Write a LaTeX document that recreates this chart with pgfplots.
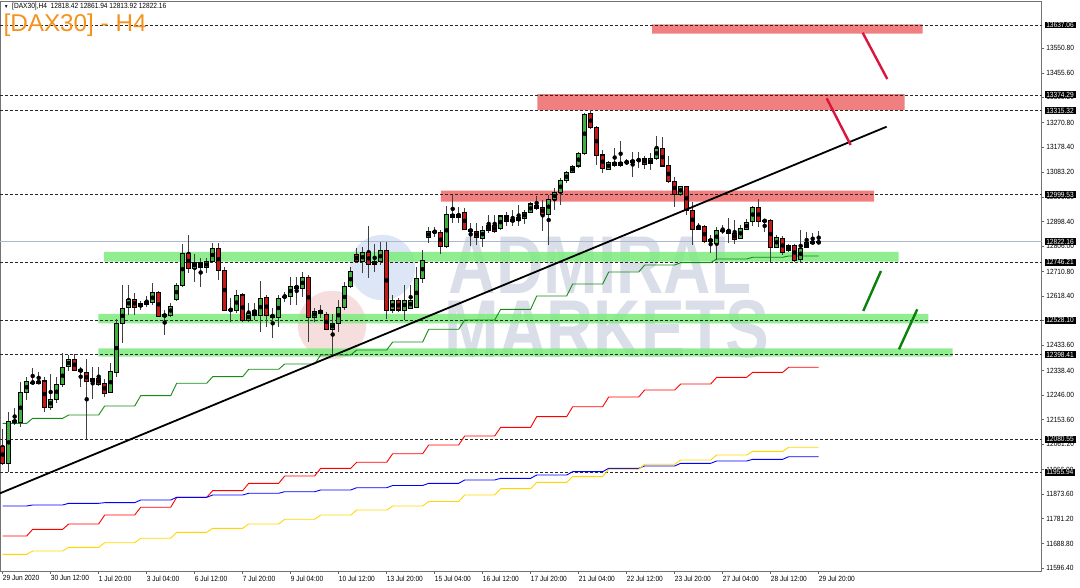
\documentclass[border=0pt]{standalone}
\usepackage{pgfplots}
\pgfplotsset{compat=1.18}
\usepackage{pgfplotstable}
\usepackage{fontspec}
\setmainfont{Liberation Sans}
\newfontfamily\mtfont{Liberation Sans}[FakeStretch=0.88]
\newfontfamily\wmfont{Liberation Sans}[FakeStretch=0.8]

\definecolor{mtgreen}{RGB}{64,176,64}
\definecolor{mtred}{RGB}{200,24,24}
\definecolor{zonegreen}{RGB}{124,235,124}
\definecolor{zonered}{RGB}{237,106,106}
\definecolor{arrowred}{RGB}{220,20,60}
\definecolor{arrowgreen}{RGB}{10,130,10}
\definecolor{wm}{RGB}{217,222,232}
\definecolor{wmpink}{RGB}{246,222,222}
\definecolor{wmblue}{RGB}{220,230,246}
\definecolor{bidline}{RGB}{172,184,204}
\definecolor{titleorange}{RGB}{245,146,30}
\definecolor{mayellow}{RGB}{255,215,0}
\definecolor{magreen}{RGB}{20,140,20}

% bullish candles: bar index, open, high, low, close
\pgfplotstableread{
i o h l c
1 11991.0 12183.8 11957.2 12146.3
3 12142.5 12296.6 12127.5 12255.2
4 12255.2 12315.4 12227.8 12296.6
5 12292.8 12348.1 12287.9 12294.3
6 12290.6 12334.2 12287.9 12299.2
8 12200.4 12325.5 12190.2 12230.4
9 12230.4 12315.4 12215.4 12287.9
10 12287.9 12405.6 12277.8 12350.7
11 12352.9 12396.9 12337.9 12380.8
15 12296.6 12350.7 12230.4 12309.3
18 12255.2 12368.0 12253.0 12334.2
19 12330.4 12531.1 12315.4 12516.0
20 12516.0 12660.0 12440.9 12572.4
21 12576.2 12660.0 12547.2 12606.2
23 12578.4 12601.0 12566.0 12588.6
24 12588.6 12618.6 12576.2 12597.2
25 12593.5 12666.4 12584.8 12631.0
27 12540.8 12566.0 12472.1 12549.9
28 12547.2 12591.2 12538.6 12581.0
29 12606.2 12668.6 12601.0 12660.0
30 12660.0 12814.0 12653.6 12779.1
32 12722.7 12776.5 12672.4 12746.4
34 12726.5 12760.3 12703.9 12747.5
35 12747.5 12818.9 12741.5 12797.9
38 12566.0 12610.0 12522.0 12567.9
39 12566.0 12641.2 12553.6 12622.4
41 12525.8 12591.2 12522.0 12553.6
43 12543.5 12676.1 12484.5 12610.0
46 12537.1 12622.4 12501.0 12610.0
47 12616.0 12634.8 12597.2 12617.5
48 12618.6 12688.9 12584.8 12656.2
50 12647.6 12710.0 12616.0 12688.9
52 12537.1 12572.4 12522.0 12562.3
55 12493.5 12551.0 12396.9 12516.0
56 12516.0 12603.6 12484.5 12576.2
57 12576.2 12672.4 12566.0 12653.6
58 12653.6 12728.7 12647.6 12710.0
60 12747.5 12803.9 12703.9 12781.3
62 12738.9 12814.0 12710.0 12747.5
63 12747.5 12822.7 12735.1 12788.9
65 12566.0 12622.4 12555.9 12601.0
67 12566.0 12660.0 12528.4 12603.6
68 12572.4 12660.0 12568.6 12603.6
69 12576.2 12728.7 12576.2 12685.1
70 12685.1 12791.5 12667.5 12753.9
71 12839.2 12879.1 12818.9 12860.3
74 12803.9 12956.9 12797.9 12926.8
76 12914.4 12952.0 12894.1 12926.8
80 12835.5 12881.7 12803.9 12866.7
81 12864.0 12923.0 12856.5 12885.4
83 12873.0 12923.0 12866.7 12919.3
85 12897.8 12941.8 12881.7 12906.9
86 12901.6 12960.6 12881.7 12912.9
87 12910.6 12941.8 12889.2 12933.2
88 12931.7 12973.0 12929.4 12964.4
91 12926.8 12998.2 12810.3 12982.0
92 12982.0 13023.4 12941.8 13006.8
93 13006.8 13060.9 12960.6 13051.9
94 13051.9 13089.5 13044.4 13082.0
95 13082.0 13110.9 13079.7 13107.2
96 13107.2 13160.9 13098.5 13154.9
97 13154.9 13307.5 13148.5 13302.6
101 13094.8 13127.1 13092.1 13121.1
103 13110.9 13202.2 13104.5 13121.1
104 13120.3 13133.5 13110.9 13121.1
105 13119.6 13160.9 13064.7 13129.7
108 13114.7 13154.9 13092.1 13133.5
109 13136.1 13219.9 13129.7 13173.7
113 13001.9 13032.0 12994.4 13029.4
116 12869.3 12891.8 12866.7 12881.7
118 12822.7 12847.9 12779.1 12832.8
119 12816.7 12876.8 12753.9 12866.7
120 12864.0 12885.4 12851.6 12865.5
123 12835.5 12885.4 12831.7 12873.0
124 12869.3 12906.9 12866.7 12894.1
125 12897.8 12956.9 12881.7 12952.0
129 12801.6 12847.9 12797.9 12839.2
131 12788.9 12814.0 12785.1 12810.3
133 12756.6 12866.7 12747.5 12797.9
134 12801.6 12860.3 12797.9 12818.9
135 12816.7 12854.3 12814.0 12822.7
136 12818.42 12861.94 12813.92 12822.16
}\up

% bearish candles
\pgfplotstableread{
i o h l c
0 12054.9 12118.8 11983.5 11991.0
2 12152.6 12197.7 12133.8 12142.5
7 12299.2 12315.4 12183.8 12200.4
12 12380.8 12400.7 12336.8 12340.5
13 12343.2 12352.9 12277.8 12334.2
14 12330.4 12380.8 12080.1 12296.6
16 12309.3 12350.7 12280.4 12286.8
17 12290.6 12305.6 12240.2 12253.0
22 12606.2 12631.0 12547.2 12576.2
26 12631.0 12638.5 12538.6 12543.5
31 12779.1 12847.9 12706.2 12722.7
33 12743.8 12760.3 12653.6 12726.5
36 12797.9 12816.7 12678.8 12716.3
37 12716.3 12728.7 12562.3 12566.0
40 12622.4 12631.0 12522.0 12528.4
42 12562.3 12593.5 12528.4 12544.6
44 12613.7 12622.4 12503.3 12543.5
45 12547.2 12572.4 12459.7 12538.6
49 12656.2 12691.2 12584.8 12647.6
51 12688.9 12697.5 12446.9 12538.6
53 12563.4 12584.8 12534.8 12553.6
54 12549.9 12559.6 12490.9 12493.5
59 12775.3 12797.9 12741.5 12747.5
61 12781.3 12881.7 12685.1 12738.9
64 12788.9 12822.7 12531.1 12566.0
66 12601.0 12610.0 12559.6 12566.0
72 12862.9 12879.1 12841.5 12856.5
73 12856.5 12866.7 12776.5 12803.9
75 12926.8 12998.2 12894.1 12914.4
77 12933.2 12948.2 12866.7 12869.3
78 12869.3 12894.1 12806.5 12860.3
79 12860.3 12894.1 12810.3 12839.2
82 12885.4 12923.0 12856.5 12860.3
84 12919.3 12935.4 12881.7 12897.8
89 12960.6 12994.4 12941.8 12948.2
90 12952.0 12979.4 12864.0 12926.8
98 13302.6 13317.6 13245.1 13252.6
99 13252.6 13257.5 13110.9 13148.5
100 13148.5 13167.3 13079.7 13098.5
102 13121.1 13173.7 13104.5 13110.9
106 13129.7 13160.9 13098.5 13128.6
107 13136.1 13144.8 13094.8 13114.7
110 13173.7 13217.3 13104.5 13107.2
111 13107.2 13144.8 13044.4 13048.2
112 13048.2 13067.0 12952.0 13001.9
114 13029.4 13032.0 12923.0 12941.8
115 12941.8 12973.0 12810.3 12869.3
117 12879.1 12885.4 12816.7 12822.7
121 12866.7 12910.6 12816.7 12854.3
122 12854.3 12904.2 12814.0 12831.7
126 12952.0 12982.0 12876.8 12897.8
127 12904.2 12904.2 12860.3 12897.8
128 12901.6 12906.9 12747.5 12801.6
130 12835.5 12844.1 12772.7 12781.3
132 12810.3 12814.0 12747.5 12753.9
}\down

\pgfplotsset{
  dashlvl/.style={black!85, line width=0.8pt, dash pattern=on 2.5pt off 2.5pt},
  stepline/.style={line width=0.9pt},
  wickplot/.style={only marks, mark=none, error bars/.cd, y dir=both, y explicit, error mark=none,
     error bar style={black!75, line width=0.9pt}},
  bodyout/.style={only marks, mark=none, error bars/.cd, y dir=both, y explicit, error mark=none,
     error bar style={black, line width=4.4pt}},
  bodyin/.style={only marks, mark=none, error bars/.cd, y dir=both, y explicit, error mark=none,
     error bar style={#1, line width=2.6pt}},
}

\begin{document}
\begin{tikzpicture}
\begin{axis}[name=main, scale only axis, width=1041.7pt, height=569.3pt,
  xmin=-0.45, xmax=173.17, ymin=11585.2, ymax=13724.6,
  clip mode=individual,
  axis line style={black!55, line width=0.9pt},
  tick align=outside, major tick length=2.5pt,
  xtick pos=left, ytick pos=right, yticklabel pos=right,
  tick style={black!60, line width=0.7pt},
  xtick={0,8,...,136},
  xticklabels={29 Jun 2020, 30 Jun 12:00, 1 Jul 20:00, 3 Jul 04:00, 6 Jul 12:00, 7 Jul 20:00, 9 Jul 04:00, 10 Jul 12:00, 13 Jul 20:00, 15 Jul 04:00, 16 Jul 12:00, 17 Jul 20:00, 21 Jul 04:00, 22 Jul 12:00, 23 Jul 20:00, 27 Jul 04:00, 28 Jul 12:00, 29 Jul 20:00},
  ytick={11596.4,11688.8,11781.2,11873.6,11966.0,12061.2,12153.6,12246.0,12338.4,12433.6,12526.0,12618.4,12710.8,12806.0,12898.4,12990.8,13083.2,13178.4,13270.8,13365.2,13455.6,13550.8},
  yticklabels={11596.40,11688.80,11781.20,11873.60,11966.00,12061.20,12153.60,12246.00,12338.40,12433.60,12526.00,12618.40,12710.80,12806.00,12898.40,12990.80,13083.20,13178.40,13270.80,13365.20,13455.60,13550.80},
  ticklabel style={font=\mtfont\fontsize{7.5}{9}\selectfont, text=black},
  xticklabel style={anchor=north west, inner sep=0pt, yshift=-2pt},
  yticklabel style={anchor=west, inner sep=0pt, xshift=2pt},
]
% watermark
\addplot[only marks, mark=*, mark size=34pt, mark options={draw=wmpink, fill=wmpink}] coordinates {(54.88,12509.6)};
\addplot[only marks, mark=*, mark size=32.5pt, mark options={draw=wmblue, fill=wmblue}] coordinates {(63.3,12725.7)};
\node[text=wm, inner sep=0pt, font=\wmfont\bfseries\fontsize{82}{90}\selectfont] at (axis cs:99.55,12733.2) {ADMIRAL};
\node[text=wm, inner sep=0pt, font=\wmfont\bfseries\fontsize{82}{90}\selectfont] at (axis cs:100.67,12494.6) {MARKETS};

% zones
\addplot[draw=none, fill=zonered, fill opacity=0.85] coordinates {(108.22,13604.4) (153.33,13604.4) (153.33,13639.7) (108.22,13639.7) (108.22,13604.4)};
\addplot[draw=none, fill=zonered, fill opacity=0.85] coordinates {(89.1,13317.6) (150.33,13317.6) (150.33,13377.7) (89.1,13377.7) (89.1,13317.6)};
\addplot[draw=none, fill=zonered, fill opacity=0.85] coordinates {(73.05,12973.0) (145.22,12973.0) (145.22,13014.3) (73.05,13014.3) (73.05,12973.0)};
\addplot[draw=none, fill=zonegreen, fill opacity=0.85] coordinates {(16.88,12747.5) (149.33,12747.5) (149.33,12784.0) (16.88,12784.0) (16.88,12747.5)};
\addplot[draw=none, fill=zonegreen, fill opacity=0.85] coordinates {(15.93,12516.0) (154.27,12516.0) (154.27,12551.0) (15.93,12551.0) (15.93,12516.0)};
\addplot[draw=none, fill=zonegreen, fill opacity=0.85] coordinates {(15.93,12390.5) (158.33,12390.5) (158.33,12422.1) (15.93,12422.1) (15.93,12390.5)};

% horizontal levels
\addplot[dashlvl] coordinates {(-0.45,13637.06) (173.17,13637.06)};
\addplot[dashlvl] coordinates {(-0.45,13374.29) (173.17,13374.29)};
\addplot[dashlvl] coordinates {(-0.45,13315.32) (173.17,13315.32)};
\addplot[dashlvl] coordinates {(-0.45,12999.53) (173.17,12999.53)};
\addplot[dashlvl] coordinates {(-0.45,12746.21) (173.17,12746.21)};
\addplot[dashlvl] coordinates {(-0.45,12528.10) (173.17,12528.10)};
\addplot[dashlvl] coordinates {(-0.45,12398.41) (173.17,12398.41)};
\addplot[dashlvl] coordinates {(-0.45,12080.55) (173.17,12080.55)};
\addplot[dashlvl] coordinates {(-0.45,11955.94) (173.17,11955.94)};
\addplot[bidline, line width=1pt] coordinates {(-0.45,12822.16) (173.17,12822.16)};

% step lines
\addplot[stepline, magreen] coordinates {(0,12140.2) (4,12140.2) (5,12159.0) (10,12159.0) (11,12171.4) (16,12171.4) (17,12205.3) (22,12205.3) (23,12244.0) (28,12244.0) (29,12290.6) (34,12290.6) (35,12315.4) (40,12315.4) (41,12343.2) (46,12343.2) (47,12363.1) (52,12363.1) (53,12396.9) (58,12396.9) (59,12415.7) (64,12415.7) (65,12445.8) (70,12445.8) (71,12493.5) (76,12493.5) (77,12528.4) (82,12528.4) (83,12568.6) (88,12568.6) (89,12618.6) (94,12618.6) (95,12663.7) (100,12663.7) (101,12708.8) (106,12708.8) (107,12735.1) (112,12735.1) (113,12743.8) (118,12743.8) (119,12757.7) (124,12757.7) (125,12764.1) (130,12764.1) (131,12769.0) (136,12769.0)};
\addplot[stepline, red] coordinates {(0,11716.7) (4,11716.7) (5,11741.9) (10,11741.9) (11,11761.8) (16,11761.8) (17,11795.6) (22,11795.6) (23,11824.6) (28,11824.6) (29,11862.1) (34,11862.1) (35,11887.0) (40,11887.0) (41,11914.7) (46,11914.7) (47,11942.2) (52,11942.2) (53,11971.1) (58,11971.1) (59,11993.7) (64,11993.7) (65,12026.0) (70,12026.0) (71,12058.7) (76,12058.7) (77,12092.5) (82,12092.5) (83,12125.2) (88,12125.2) (89,12165.1) (94,12165.1) (95,12202.6) (100,12202.6) (101,12239.1) (106,12239.1) (107,12265.4) (112,12265.4) (113,12287.9) (118,12287.9) (119,12313.1) (124,12313.1) (125,12331.9) (130,12331.9) (131,12350.7) (136,12350.7)};
\addplot[stepline, blue] coordinates {(0,11829.5) (4,11829.5) (5,11833.2) (10,11833.2) (11,11839.6) (16,11839.6) (17,11841.9) (22,11841.9) (23,11852.0) (28,11852.0) (29,11862.1) (34,11862.1) (35,11870.8) (40,11870.8) (41,11877.2) (46,11877.2) (47,11883.2) (52,11883.2) (53,11889.6) (58,11889.6) (59,11898.2) (64,11898.2) (65,11906.5) (70,11906.5) (71,11914.7) (76,11914.7) (77,11927.2) (82,11927.2) (83,11933.5) (88,11933.5) (89,11945.9) (94,11945.9) (95,11958.4) (100,11958.4) (101,11971.1) (106,11971.1) (107,11979.8) (112,11979.8) (113,11989.9) (118,11989.9) (119,11998.6) (124,11998.6) (125,12004.9) (130,12004.9) (131,12014.7) (136,12014.7)};
\addplot[stepline, mayellow] coordinates {(0,11647.9) (4,11647.9) (5,11660.3) (10,11660.3) (11,11674.2) (16,11674.2) (17,11691.5) (22,11691.5) (23,11708.1) (28,11708.1) (29,11730.6) (34,11730.6) (35,11745.6) (40,11745.6) (41,11761.8) (46,11761.8) (47,11779.5) (52,11779.5) (53,11795.6) (58,11795.6) (59,11814.4) (64,11814.4) (65,11829.5) (70,11829.5) (71,11846.4) (76,11846.4) (77,11870.8) (82,11870.8) (83,11894.5) (88,11894.5) (89,11918.5) (94,11918.5) (95,11939.6) (100,11939.6) (101,11967.4) (106,11967.4) (107,11986.2) (112,11986.2) (113,12002.3) (118,12002.3) (119,12021.1) (124,12021.1) (125,12035.0) (130,12035.0) (131,12050.1) (136,12050.1)};

% candles: wicks
\addplot[wickplot] table[x=i, y expr={(\thisrow{h}+\thisrow{l})/2}, y error expr={(\thisrow{h}-\thisrow{l})/2}] {\up};
\addplot[wickplot] table[x=i, y expr={(\thisrow{h}+\thisrow{l})/2}, y error expr={(\thisrow{h}-\thisrow{l})/2}] {\down};
% candles: bodies
\addplot[bodyout] table[x=i, y expr={(\thisrow{o}+\thisrow{c})/2}, y error expr={abs(\thisrow{c}-\thisrow{o})/2+1.9}] {\up};
\addplot[bodyout] table[x=i, y expr={(\thisrow{o}+\thisrow{c})/2}, y error expr={abs(\thisrow{c}-\thisrow{o})/2+1.9}] {\down};
\addplot[bodyin=mtgreen] table[x=i, y expr={(\thisrow{o}+\thisrow{c})/2}, y error expr={max(abs(\thisrow{c}-\thisrow{o})/2-1.9,0)}] {\up};
\addplot[bodyin=mtred] table[x=i, y expr={(\thisrow{o}+\thisrow{c})/2}, y error expr={max(abs(\thisrow{c}-\thisrow{o})/2-1.9,0)}] {\down};

% trendline and arrows
\addplot[black, line width=1.8pt] coordinates {(-0.45,11877.2) (147.33,13254.9)};
\addplot[arrowred, line width=2.4pt] coordinates {(143.33,13608.1) (147.43,13434.1)};
\addplot[arrowred, line width=2.4pt] coordinates {(137.33,13361.6) (141.33,13186.1)};
\addplot[arrowgreen, line width=2.4pt] coordinates {(143.43,12562.3) (146.38,12712.6)};
\addplot[arrowgreen, line width=2.4pt] coordinates {(149.38,12418.3) (152.43,12568.6)};

% anchors for the price boxes
\coordinate (B1) at ({rel axis cs:1,0} |- {axis cs:0,13637.06});
\coordinate (B2) at ({rel axis cs:1,0} |- {axis cs:0,13374.29});
\coordinate (B3) at ({rel axis cs:1,0} |- {axis cs:0,13315.32});
\coordinate (B4) at ({rel axis cs:1,0} |- {axis cs:0,12999.53});
\coordinate (B5) at ({rel axis cs:1,0} |- {axis cs:0,12822.16});
\coordinate (B6) at ({rel axis cs:1,0} |- {axis cs:0,12746.21});
\coordinate (B7) at ({rel axis cs:1,0} |- {axis cs:0,12528.10});
\coordinate (B8) at ({rel axis cs:1,0} |- {axis cs:0,12398.41});
\coordinate (B9) at ({rel axis cs:1,0} |- {axis cs:0,12080.55});
\coordinate (B10) at ({rel axis cs:1,0} |- {axis cs:0,11955.94});
\end{axis}

\foreach \c/\t in {B1/13637.06, B2/13374.29, B3/13315.32, B4/12999.53, B5/12822.16, B6/12746.21, B7/12528.10, B8/12398.41, B9/12080.55, B10/11955.94}
  \node[fill=black, text=white, anchor=west, inner xsep=1.8pt, inner ysep=0.8pt, font=\mtfont\fontsize{7.5}{9}\selectfont] at ([xshift=2.6pt]\c) {\t};

\node[anchor=base west, inner sep=0pt, text=titleorange, font=\fontsize{24.3}{28}\selectfont] at ([xshift=3.3pt, yshift=-30pt]main.north west) {[DAX30] - H4};
\node[anchor=west, inner sep=0pt, font=\mtfont\fontsize{7.5}{9}\selectfont] at ([xshift=4pt, yshift=-4.5pt]main.north west) {{\fontsize{5}{5}\selectfont ▼}\ \ [DAX30],H4\ \ 12818.42 12861.94 12813.92 12822.16};

\pgfresetboundingbox
\path[use as bounding box] ([yshift=-16pt]main.south west) rectangle ([xshift=38.3pt, yshift=1.7pt]main.north east);
\end{tikzpicture}
\end{document}
